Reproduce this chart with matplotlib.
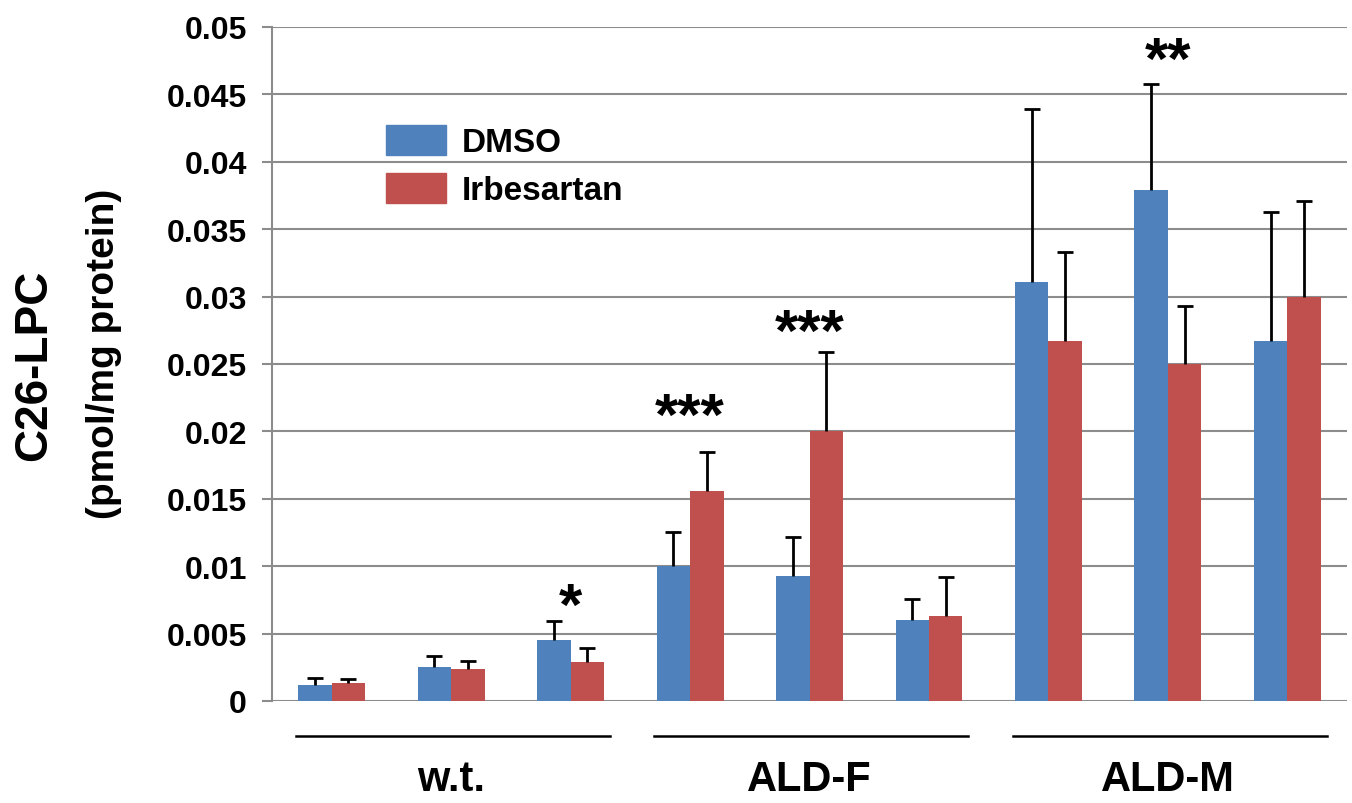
import numpy as np
from matplotlib import pyplot as plt
from matplotlib.patches import Patch
import matplotlib.transforms as mtransforms

# data
groups = ['w.t.', 'ALD-F', 'ALD-M']
dmso = [0.0012, 0.0025, 0.0045, 0.0100, 0.0093, 0.0060, 0.0311, 0.0379, 0.0267]
dmso_err = [0.0005, 0.0008, 0.0014, 0.0025, 0.0029, 0.0016, 0.0128, 0.0079, 0.0096]
irbe = [0.0013, 0.0024, 0.0029, 0.0156, 0.0200, 0.0063, 0.0267, 0.0250, 0.0300]
irbe_err = [0.0003, 0.0006, 0.0010, 0.0029, 0.0059, 0.0029, 0.0066, 0.0043, 0.0071]
stars = ['', '', '*', '***', '***', '', '', '**', '']
star_y = [0, 0, 0.0069, 0.0210, 0.0272, 0, 0, 0.0474, 0]

BLUE = '#4F81BD'
RED = '#C0504D'
GRID = '#8c8c8c'

plt.rcParams['font.family'] = ['Liberation Sans', 'DejaVu Sans']
plt.rcParams['font.weight'] = 'bold'


def main():
    fig = plt.figure(figsize=(13.52, 8.04), dpi=100)
    ax = fig.add_axes([0.2012, 0.1269, 0.7951, 0.8383])

    x = np.arange(len(dmso))
    w = 0.28
    err_kw = dict(ecolor='black', elinewidth=2.0, capsize=6, capthick=2.0)
    for off, vals, errs, col in [(-w / 2, dmso, dmso_err, BLUE),
                                 (w / 2, irbe, irbe_err, RED)]:
        bars = ax.bar(x + off, vals, w, color=col, zorder=3,
                      yerr=[np.zeros(len(vals)), errs], error_kw=err_kw)
        # only keep the upper caps
        caps = bars.errorbar.lines[1]
        caps[0].set_visible(False)

    ax.set_xlim(-0.5, 8.5)
    ax.set_ylim(0, 0.05)
    ticks = np.arange(0, 0.0501, 0.005)
    ax.set_yticks(ticks)
    ax.set_yticklabels(['0' if t == 0 else ('%.3f' % t).rstrip('0') for t in ticks])
    ax.set_xticks([])
    ax.yaxis.grid(True, color=GRID, linewidth=1.5, zorder=0)
    ax.set_axisbelow(True)
    for s in ['top', 'right', 'bottom']:
        ax.spines[s].set_visible(False)
    ax.spines['left'].set_color(GRID)
    ax.spines['left'].set_linewidth(1.5)
    ax.tick_params(axis='y', direction='out', length=7, width=1.5, color=GRID,
                   pad=11, labelsize=23)

    # significance marks
    for xi, s, yv in zip(x, stars, star_y):
        if s:
            ax.text(xi, yv, s, ha='center', va='center', fontsize=43,
                    fontweight='bold')

    # group lines and labels under the axis
    trans = mtransforms.blended_transform_factory(ax.transData, ax.transAxes)
    for i, g in enumerate(groups):
        ax.plot([3 * i - 0.3, 3 * i + 2.33], [-0.052, -0.052], color='black',
                lw=1.8, transform=trans, clip_on=False)
        ax.text(3 * i + 1, -0.116, g, ha='center', va='center', fontsize=30,
                fontweight='bold', transform=trans)

    # y label, two lines
    fig.text(0.025, 0.545, 'C26-LPC', rotation=90, ha='center', va='center',
             fontsize=33, fontweight='bold')
    fig.text(0.077, 0.56, '(pmol/mg protein)', rotation=90, ha='center',
             va='center', fontsize=28, fontweight='bold')

    handles = [Patch(color=BLUE), Patch(color=RED)]
    fig.legend(handles, ['DMSO', 'Irbesartan'], loc='upper left',
               bbox_to_anchor=(0.263, 0.881), frameon=False, fontsize=24,
               handlelength=1.8, handleheight=1.0, handletextpad=0.5,
               labelspacing=0.45)

    plt.savefig('out.png', dpi=100)


if __name__ == "__main__":
    main()
